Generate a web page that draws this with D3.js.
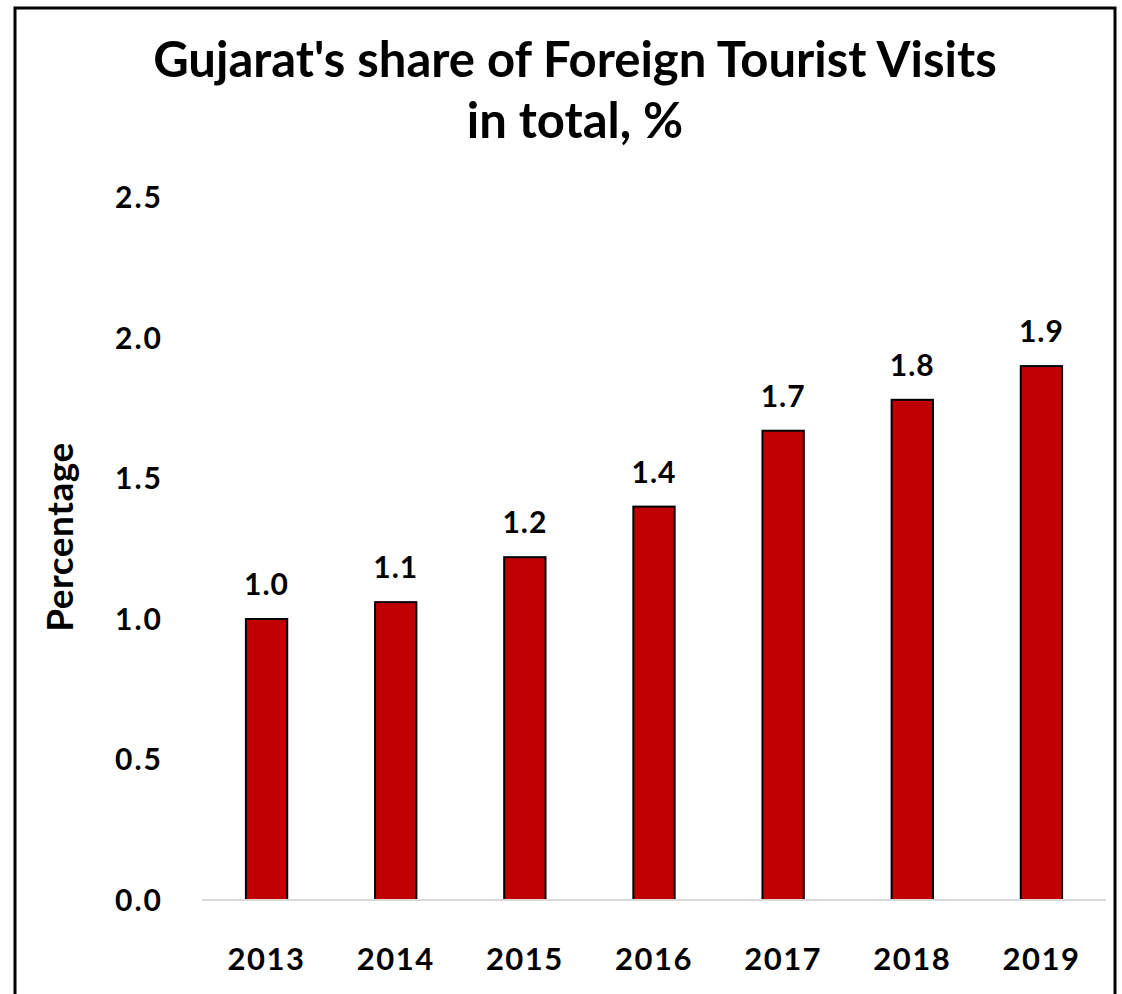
<!DOCTYPE html>
<html>
<head>
<meta charset="utf-8">
<script src="https://cdn.jsdelivr.net/npm/d3@7"></script>
<style>
  body { margin: 0; background: #fff; }
  text { font-family: Lato, "Open Sans", sans-serif; font-weight: bold; fill: #000; }
</style>
</head>
<body>
<svg id="chart" width="1122" height="994"></svg>
<script>
var years = ["2013", "2014", "2015", "2016", "2017", "2018", "2019"];
var shares = [1.0, 1.06, 1.22, 1.4, 1.67, 1.78, 1.9];
var yTicks = [0, 0.5, 1.0, 1.5, 2.0, 2.5];
var titleLines = ["Gujarat's share of Foreign Tourist Visits", "in total, %"];

var svg = d3.select("#chart");

// frame round the chart area
svg.append("path")
    .attr("d", "M15,994 L15,8 L1115,8 L1115,994")
    .attr("fill", "none")
    .attr("stroke", "#000")
    .attr("stroke-width", 3);

var x = d3.scaleBand()
    .domain(years)
    .range([202, 1106])
    .paddingInner(0.68)
    .paddingOuter(0.34);

var y = d3.scaleLinear()
    .domain([0, 2.5])
    .range([900, 197.5]);

// title
svg.append("g").selectAll("text")
    .data(titleLines)
  .enter().append("text")
    .attr("x", 575)
    .attr("y", function(d, i) { return 77 + i * 61; })
    .attr("text-anchor", "middle")
    .style("font-size", "49px")
    .text(function(d) { return d; });

// y tick labels (no axis line)
svg.append("g").selectAll("text")
    .data(yTicks)
  .enter().append("text")
    .attr("x", 163)
    .attr("y", function(d) { return y(d); })
    .attr("dy", "0.35em")
    .attr("text-anchor", "end")
    .style("font-size", "30px")
    .style("letter-spacing", "2px")
    .text(function(d) { return d3.format(".1f")(d); });

svg.append("text")
    .attr("transform", "translate(73," + 537 + ") rotate(-90)")
    .attr("text-anchor", "middle")
    .style("font-size", "37px")
    .style("letter-spacing", "0.5px")
    .text("Percentage");

// bars
svg.append("g").selectAll("rect")
    .data(shares)
  .enter().append("rect")
    .attr("x", function(d, i) { return x(years[i]); })
    .attr("y", function(d) { return y(d); })
    .attr("width", x.bandwidth())
    .attr("height", function(d) { return y(0) - y(d); })
    .attr("fill", "#c00000")
    .attr("stroke", "#000")
    .attr("stroke-width", 2);

// baseline
svg.append("line")
    .attr("x1", 202).attr("x2", 1106)
    .attr("y1", y(0)).attr("y2", y(0))
    .attr("stroke", "#d9d9d9")
    .attr("stroke-width", 2);

// value labels
svg.append("g").selectAll("text")
    .data(shares)
  .enter().append("text")
    .attr("x", function(d, i) { return x(years[i]) + x.bandwidth() / 2; })
    .attr("y", function(d) { return y(d) - 24; })
    .attr("text-anchor", "middle")
    .style("font-size", "30px")
    .style("letter-spacing", "1px")
    .text(function(d) { return d3.format(".1f")(d); });

// x labels
svg.append("g").selectAll("text")
    .data(years)
  .enter().append("text")
    .attr("x", function(d) { return x(d) + x.bandwidth() / 2; })
    .attr("y", 970)
    .attr("text-anchor", "middle")
    .style("font-size", "31px")
    .style("letter-spacing", "1.5px")
    .text(function(d) { return d; });
</script>
</body>
</html>
